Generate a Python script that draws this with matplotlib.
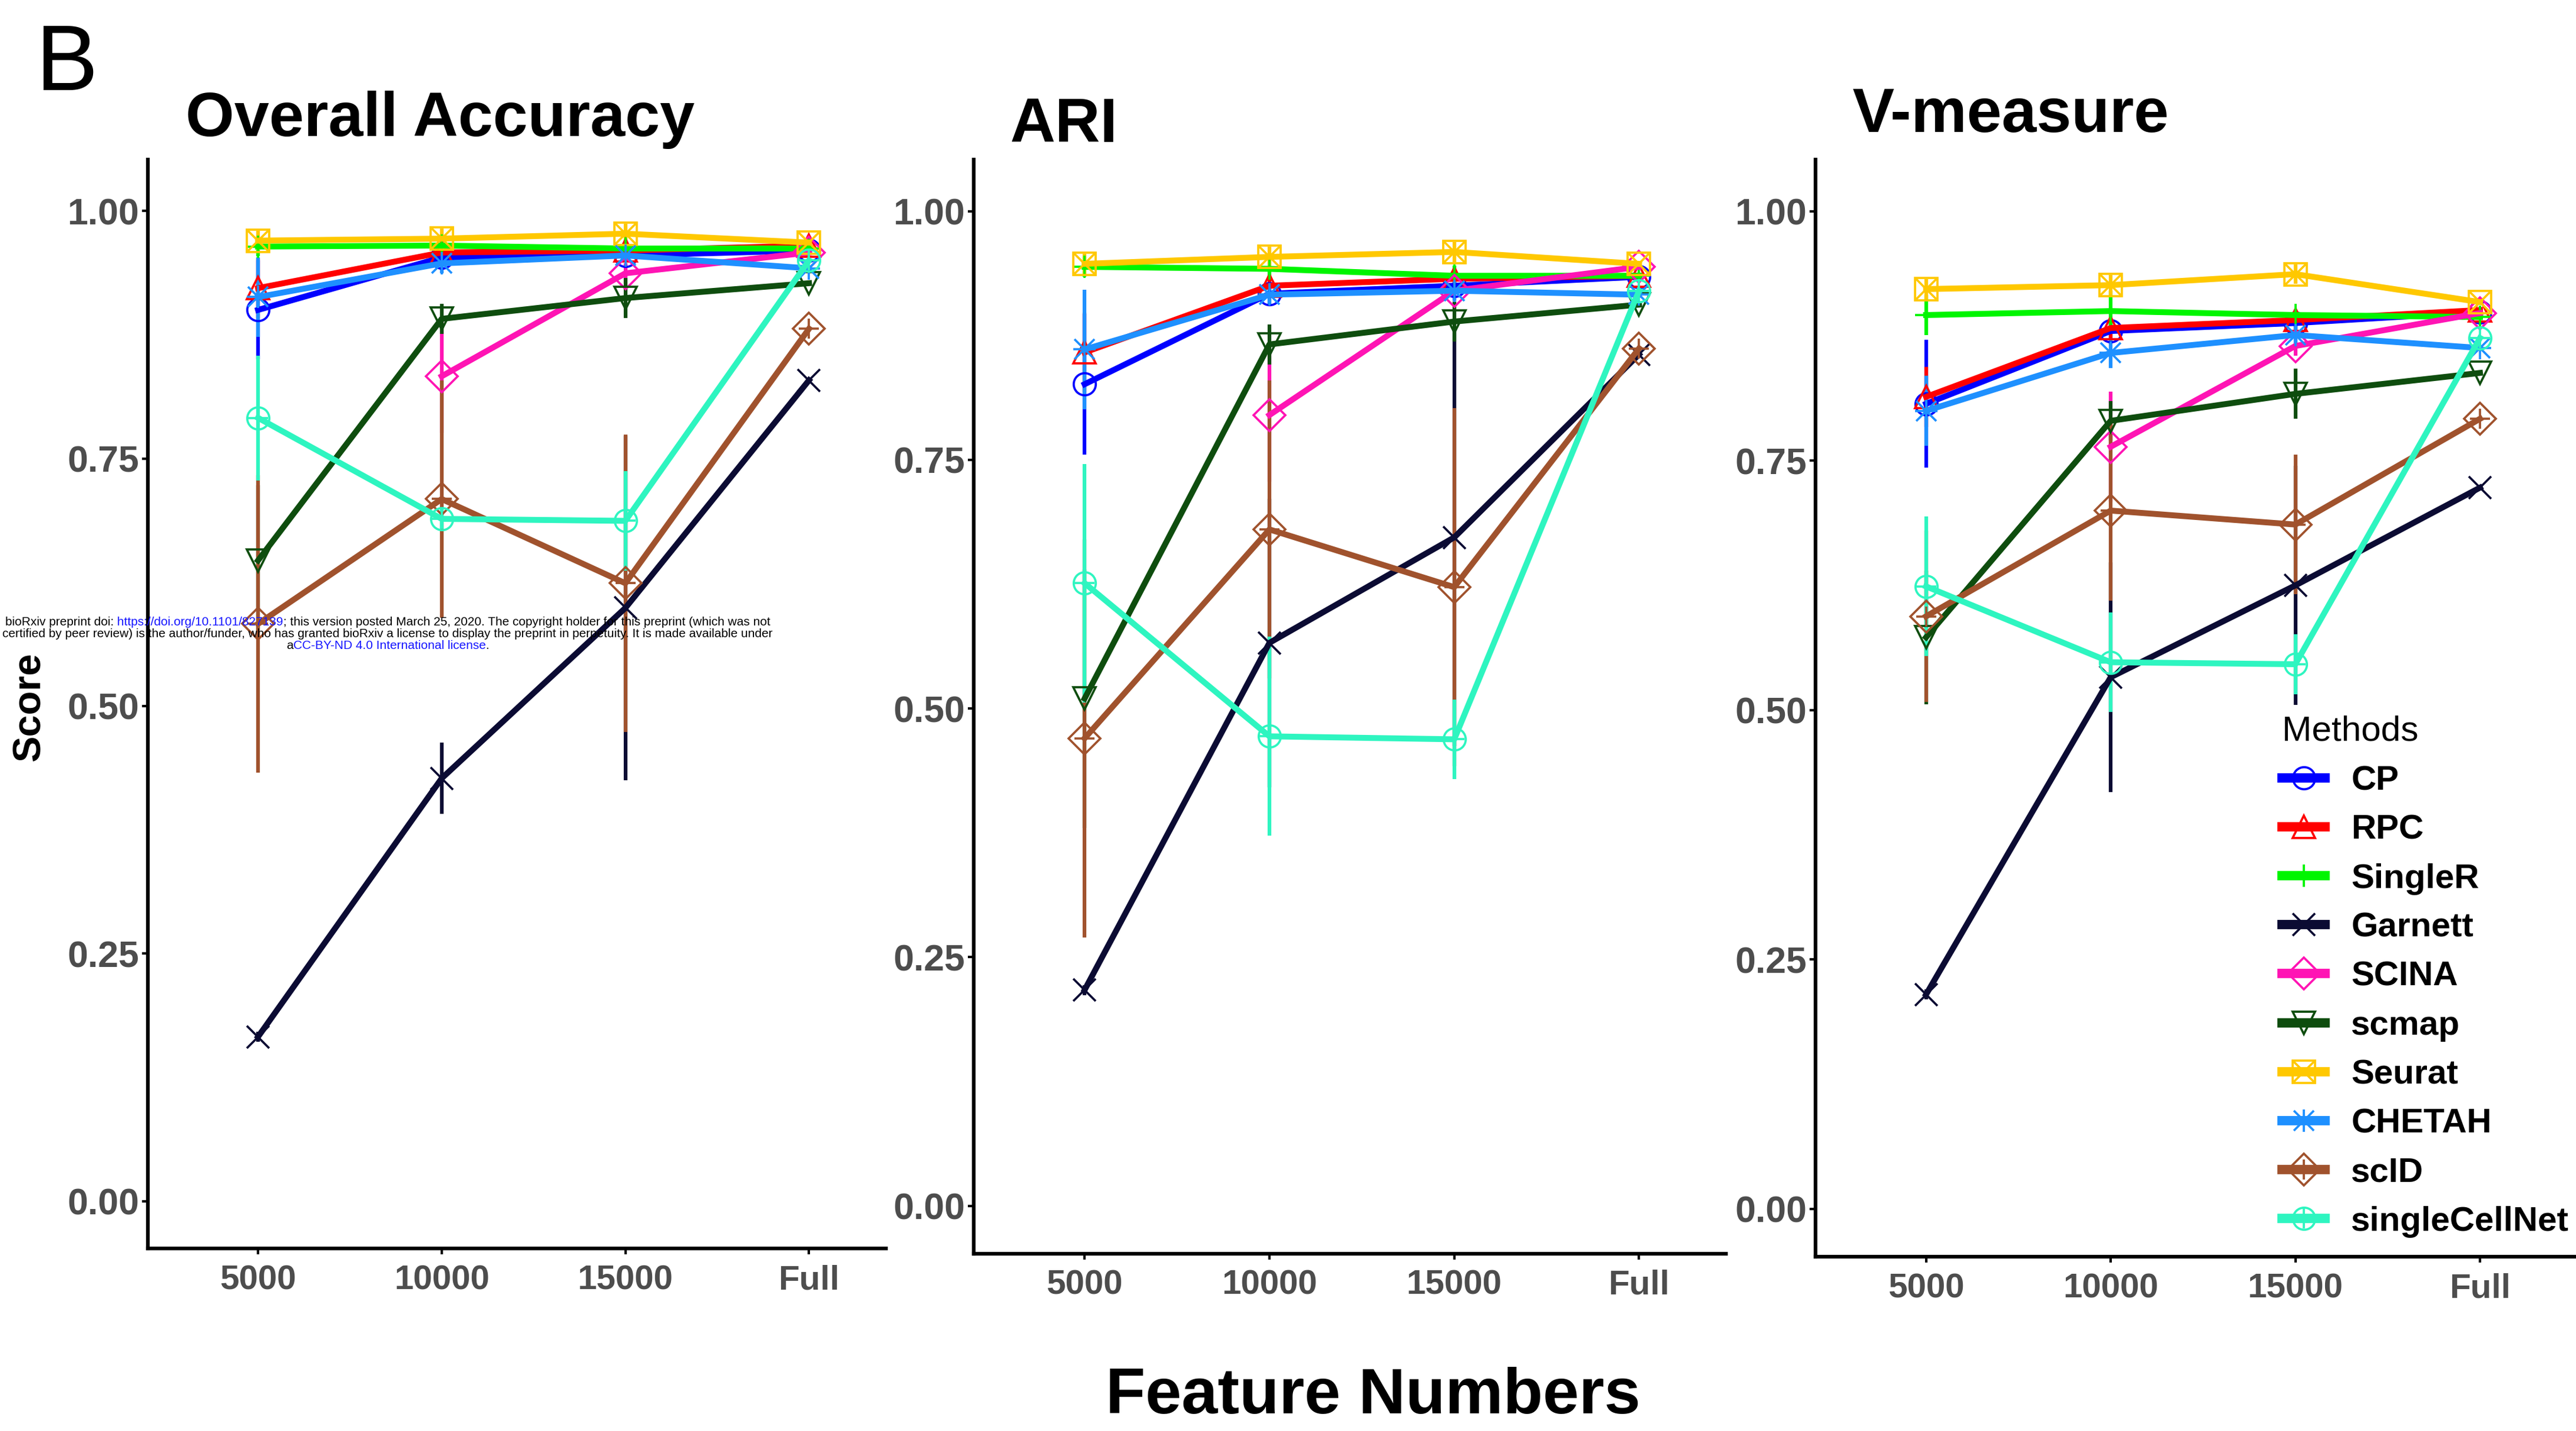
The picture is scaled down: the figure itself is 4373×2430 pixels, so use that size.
import numpy as np
import matplotlib.pyplot as plt
from matplotlib.lines import Line2D
from matplotlib.offsetbox import TextArea, HPacker, VPacker, AnchoredOffsetbox

plt.rcParams['font.family'] = ['Liberation Sans', 'DejaVu Sans']

features = ["5000", "10000", "15000", "Full"]
methods = ["CP", "RPC", "SingleR", "Garnett", "SCINA", "scmap",
           "Seurat", "CHETAH", "scID", "singleCellNet"]
nan = np.nan

# mean scores: one row per method, columns follow `features`
acc_mean = [
    [0.900, 0.953, 0.955, 0.960],   # CP
    [0.922, 0.958, 0.960, 0.965],   # RPC
    [0.964, 0.965, 0.962, 0.962],   # SingleR
    [0.166, 0.427, 0.599, 0.829],   # Garnett
    [nan,   0.833, 0.937, 0.958],   # SCINA
    [0.647, 0.891, 0.912, 0.927],   # scmap
    [0.970, 0.972, 0.977, 0.968],   # Seurat
    [0.913, 0.947, 0.955, 0.942],   # CHETAH
    [0.583, 0.709, 0.624, 0.881],   # scID
    [0.791, 0.689, 0.687, 0.950],   # singleCellNet
]
acc_sd = [
    [0.050, 0.005, 0.005, 0.0],
    [0.030, 0.005, 0.005, 0.0],
    [0.010, 0.005, 0.005, 0.0],
    [0.005, 0.036, 0.174, 0.0],
    [nan,   0.057, 0.010, 0.0],
    [0.076, 0.015, 0.020, 0.0],
    [0.010, 0.010, 0.010, 0.0],
    [0.040, 0.010, 0.005, 0.0],
    [0.150, 0.120, 0.150, 0.0],
    [0.063, 0.010, 0.050, 0.0],
]

ari_mean = [
    [0.826, 0.917, 0.925, 0.934],
    [0.858, 0.925, 0.932, 0.935],
    [0.944, 0.942, 0.935, 0.935],
    [0.217, 0.566, 0.672, 0.856],
    [nan,   0.795, 0.920, 0.944],
    [0.510, 0.866, 0.889, 0.906],
    [0.947, 0.954, 0.959, 0.947],
    [0.861, 0.916, 0.920, 0.916],
    [0.470, 0.680, 0.622, 0.862],
    [0.626, 0.472, 0.469, 0.920],
]
ari_sd = [
    [0.071, 0.010, 0.010, 0.0],
    [0.040, 0.010, 0.010, 0.0],
    [0.010, 0.010, 0.010, 0.0],
    [0.005, 0.145, 0.210, 0.0],
    [nan,   0.067, 0.010, 0.0],
    [0.130, 0.020, 0.020, 0.0],
    [0.010, 0.010, 0.010, 0.0],
    [0.060, 0.010, 0.010, 0.0],
    [0.200, 0.150, 0.180, 0.0],
    [0.120, 0.100, 0.040, 0.0],
]

vm_mean = [
    [0.807, 0.880, 0.888, 0.899],
    [0.814, 0.883, 0.891, 0.901],
    [0.896, 0.900, 0.896, 0.894],
    [0.215, 0.533, 0.625, 0.723],
    [nan,   0.764, 0.865, 0.898],
    [0.573, 0.790, 0.817, 0.838],
    [0.922, 0.926, 0.937, 0.909],
    [0.800, 0.858, 0.876, 0.863],
    [0.594, 0.700, 0.686, 0.792],
    [0.624, 0.548, 0.546, 0.873],
]
vm_sd = [
    [0.064, 0.010, 0.010, 0.0],
    [0.030, 0.010, 0.010, 0.0],
    [0.020, 0.020, 0.005, 0.0],
    [0.005, 0.115, 0.120, 0.0],
    [nan,   0.055, 0.010, 0.0],
    [0.067, 0.020, 0.025, 0.0],
    [0.010, 0.010, 0.010, 0.0],
    [0.035, 0.015, 0.010, 0.0],
    [0.086, 0.090, 0.070, 0.0],
    [0.070, 0.050, 0.030, 0.0],
]

# styles
colors = ["#0000FF", "#FF0000", "#00F500", "#0B0B33", "#FF14B4", "#0E4D0E",
          "#FFC800", "#1E90FF", "#A0522D", "#2EF5C0"]
mk_a = ['o', '^', '+', 'x', 'D', 'v', 's', '+', 'D', 'o']
mk_b = [None, None, None, None, None, None, 'x', 'x', '+', '+']
MS = 9


def draw_panel(ax, means, sds, xmax):
    x = np.arange(len(features))
    for i in range(len(methods)):
        y = np.array(means[i], dtype=float)
        e = np.array(sds[i], dtype=float)
        ax.errorbar(x, y, yerr=e, fmt='none', ecolor=colors[i],
                    elinewidth=1.5, capsize=0, zorder=2)
        ax.plot(x, y, color=colors[i], lw=2.4, marker=mk_a[i], ms=MS,
                mfc='none', mew=0.9, zorder=3)
        if mk_b[i]:
            ax.plot(x, y, ls='none', color=colors[i], marker=mk_b[i],
                    ms=MS * 0.9, mew=0.9, zorder=3)
    ax.set_xlim(-0.6, xmax)
    ax.set_ylim(-0.048, 1.052)
    ax.set_xticks(x, features)
    ax.set_yticks([0, 0.25, 0.5, 0.75, 1.0],
                  ["0.00", "0.25", "0.50", "0.75", "1.00"])
    for s in ['top', 'right']:
        ax.spines[s].set_visible(False)
    for s in ['left', 'bottom']:
        ax.spines[s].set_linewidth(1.5)
    ax.tick_params(labelcolor='#4D4D4D', length=2.5, width=1)
    ax.tick_params(axis='x', pad=4, labelsize=14)
    ax.tick_params(axis='y', pad=1, labelsize=15)
    for lab in ax.get_xticklabels() + ax.get_yticklabels():
        lab.set_fontweight('bold')


fig = plt.figure(figsize=(4373 / 300, 2430 / 300), dpi=300)

ax1 = fig.add_axes([0.0574, 0.1274, 0.2866, 0.7612])
ax2 = fig.add_axes([0.378, 0.124, 0.292, 0.7646])
ax3 = fig.add_axes([0.7047, 0.1217, 0.2953, 0.7669])

draw_panel(ax1, acc_mean, acc_sd, 3.42)
draw_panel(ax2, ari_mean, ari_sd, 3.47)
draw_panel(ax3, vm_mean, vm_sd, 3.52)

fig.text(0.014, 0.937, "B", fontsize=38)
fig.text(0.0721, 0.905, "Overall Accuracy", fontsize=25.5, fontweight='bold')
fig.text(0.392, 0.901, "ARI", fontsize=25.5, fontweight='bold')
fig.text(0.719, 0.908, "V-measure", fontsize=25.5, fontweight='bold')
fig.text(0.0115, 0.506, "Score", fontsize=16, fontweight='bold',
         rotation=90, ha='center', va='center')
fig.text(0.533, 0.024, "Feature Numbers", fontsize=26.5, fontweight='bold',
         ha='center', va='center')

# legend
handles = []
for i in range(len(methods)):
    h1 = Line2D([], [], color=colors[i], lw=3.8, marker=mk_a[i], ms=MS,
                mfc='none', mew=0.9)
    if mk_b[i]:
        h2 = Line2D([], [], ls='none', color=colors[i], marker=mk_b[i],
                    ms=MS * 0.9, mew=0.9)
        handles.append((h1, h2))
    else:
        handles.append(h1)
leg = fig.legend(handles, methods, loc='upper left',
                 bbox_to_anchor=(0.886, 0.500), frameon=False,
                 title='Methods', prop={'weight': 'bold', 'size': 14},
                 title_fontproperties={'size': 14.5}, alignment='left',
                 handlelength=1.25, handletextpad=0.75, labelspacing=0.5,
                 borderpad=0, borderaxespad=0)

# bioRxiv watermark
fs = 5.0
blue = '#1515FF'
line1 = HPacker(children=[
    TextArea("bioRxiv preprint doi:", textprops=dict(size=fs, color='black')),
    TextArea(" https://doi.org/10.1101/827139", textprops=dict(size=fs, color=blue)),
    TextArea("; this version posted March 25, 2020. The copyright holder for this "
             "preprint (which was not", textprops=dict(size=fs, color='black')),
], sep=0, pad=0, align='baseline')
line2 = TextArea("certified by peer review) is the author/funder, who has granted "
                 "bioRxiv a license to display the preprint in perpetuity. It is "
                 "made available under", textprops=dict(size=fs, color='black'))
line3 = HPacker(children=[
    TextArea("a", textprops=dict(size=fs, color='black')),
    TextArea("CC-BY-ND 4.0 International license", textprops=dict(size=fs, color=blue)),
    TextArea(".", textprops=dict(size=fs, color='black')),
], sep=0, pad=0, align='baseline')
wm = VPacker(children=[line1, line2, line3], sep=0.3, pad=0, align='center')
box = AnchoredOffsetbox(loc='center', child=wm, frameon=False, pad=0,
                        borderpad=0, bbox_to_anchor=(0.1505, 0.557),
                        bbox_transform=fig.transFigure)
box.set_zorder(10)
fig.add_artist(box)

fig.savefig("out.png", dpi=300)
